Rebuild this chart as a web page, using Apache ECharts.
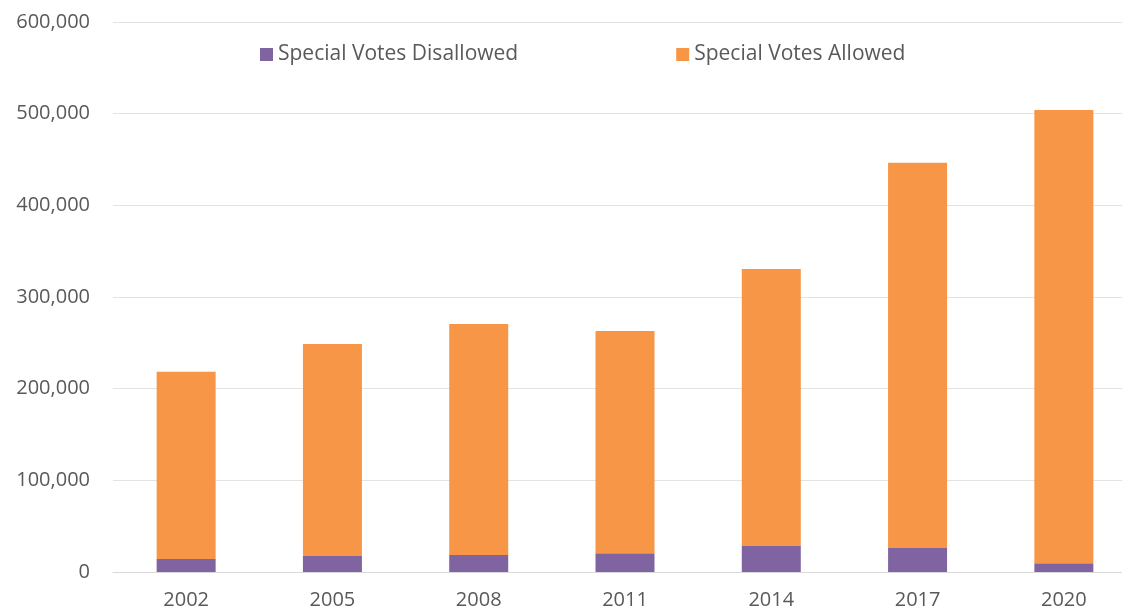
<!DOCTYPE html>
<html>
<head>
<meta charset="utf-8">
<script src="https://cdn.jsdelivr.net/npm/echarts@6/dist/echarts.min.js"></script>
<style>
  html, body { margin: 0; padding: 0; background: #fff; }
  #chart { width: 1122px; height: 607px; }
</style>
</head>
<body>
<div id="chart"></div>
<script>
var years = ['2002', '2005', '2008', '2011', '2014', '2017', '2020'];
var disallowed = [14200, 17500, 18500, 20400, 28400, 26200, 9500];
var allowed = [204300, 231200, 252000, 242500, 302100, 420300, 494500];

var myChart = echarts.init(document.getElementById('chart'));
var option = {
    animation: false,
    textStyle: { fontFamily: 'Open Sans' },
    legend: {
        left: 255,
        top: 39,
        itemWidth: 13,
        itemHeight: 13,
        itemGap: 158,
        icon: 'rect',
        textStyle: { fontSize: 21, color: '#595959', fontFamily: 'Open Sans' },
        data: ['Special Votes Disallowed', 'Special Votes Allowed']
    },
    grid: {
        left: 113,
        top: 22,
        width: 1024,
        bottom: 35,
        containLabel: false,
        outerBoundsMode: 'none'
    },
    xAxis: {
        type: 'category',
        data: years,
        axisLine: { lineStyle: { color: '#d9d9d9', width: 1 } },
        axisTick: { show: false },
        axisLabel: { fontSize: 20, color: '#595959', margin: 18 }
    },
    yAxis: {
        type: 'value',
        min: 0,
        max: 600000,
        interval: 100000,
        axisLine: { show: false },
        axisTick: { show: false },
        splitLine: { lineStyle: { color: '#e3e3e3', width: 1 } },
        axisLabel: {
            fontSize: 20,
            color: '#595959',
            margin: 23,
            formatter: function (v) { return v.toLocaleString('en-US'); }
        }
    },
    series: [
        {
            name: 'Special Votes Disallowed',
            type: 'bar',
            stack: 'votes',
            barWidth: 59,
            itemStyle: { color: '#8064A2' },
            data: disallowed
        },
        {
            name: 'Special Votes Allowed',
            type: 'bar',
            stack: 'votes',
            barWidth: 59,
            itemStyle: { color: '#F79646' },
            data: allowed
        }
    ]
};
myChart.setOption(option);
</script>
</body>
</html>
